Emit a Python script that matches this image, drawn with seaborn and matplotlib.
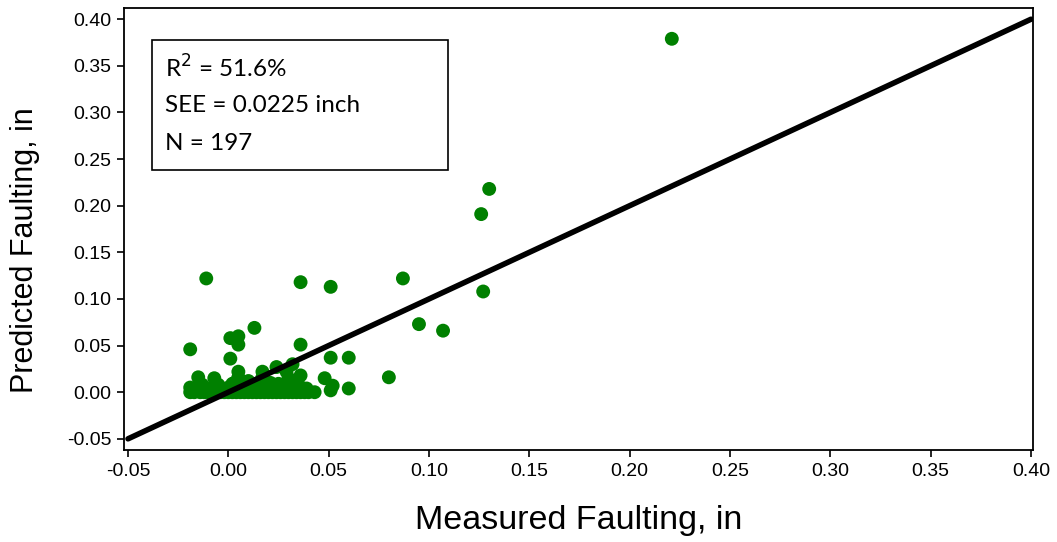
import matplotlib
matplotlib.use("Agg")
import matplotlib.pyplot as plt
import seaborn as sns
import pandas as pd
from matplotlib.patches import Rectangle

# Measured (x) and predicted (y) faulting, inches
measured = [
    0.221, 0.130, 0.126, 0.127, 0.087, 0.095, 0.107, 0.080,
    -0.011, 0.036, 0.051, 0.013, -0.019, 0.001, 0.005, 0.005, 0.036,
    0.001, 0.051, 0.060, 0.060, 0.051, 0.052, 0.048,
    -0.015, -0.007, 0.005, 0.005, 0.017, 0.017, 0.024, 0.032, 0.036, 0.029, 0.030,
    0.003, 0.010, 0.021, 0.033, 0.035,
    # dense band near zero
    -0.019, -0.017, -0.014, -0.012, -0.010, -0.008, -0.006, -0.004, -0.002,
    0.000, 0.002, 0.004, 0.006, 0.008, 0.010, 0.012, 0.014, 0.016, 0.018,
    0.020, 0.022, 0.024, 0.026, 0.028, 0.030, 0.032, 0.034, 0.036, 0.038,
    0.040, 0.043,
    -0.019, -0.016, -0.012, -0.008, -0.004, 0.000, 0.004, 0.008, 0.012,
    0.016, 0.020, 0.024, 0.028, 0.032, 0.036, 0.039,
    -0.013, -0.005, 0.002, 0.009, 0.014, 0.019, 0.025, 0.030, 0.034,
]
predicted = [
    0.379, 0.218, 0.191, 0.108, 0.122, 0.073, 0.066, 0.016,
    0.122, 0.118, 0.113, 0.069, 0.046, 0.058, 0.060, 0.051, 0.051,
    0.036, 0.037, 0.037, 0.004, 0.002, 0.007, 0.015,
    0.016, 0.015, 0.022, 0.016, 0.022, 0.016, 0.027, 0.030, 0.018, 0.022, 0.015,
    0.010, 0.012, 0.010, 0.012, 0.008,
    0.000, 0.000, 0.000, 0.000, 0.000, 0.000, 0.000, 0.000, 0.000,
    0.000, 0.000, 0.000, 0.000, 0.000, 0.000, 0.000, 0.000, 0.000, 0.000,
    0.000, 0.000, 0.000, 0.000, 0.000, 0.000, 0.000, 0.000, 0.000, 0.000,
    0.000, 0.000,
    0.005, 0.004, 0.004, 0.005, 0.004, 0.005, 0.004, 0.005, 0.004,
    0.005, 0.004, 0.005, 0.004, 0.005, 0.004, 0.004,
    0.008, 0.008, 0.009, 0.008, 0.009, 0.008, 0.009, 0.008, 0.009,
]

line_x = [-0.05, 0.40]
line_y = [-0.05, 0.40]

x_ticks = [-0.05, 0.00, 0.05, 0.10, 0.15, 0.20, 0.25, 0.30, 0.35, 0.40]
y_ticks = [-0.05, 0.00, 0.05, 0.10, 0.15, 0.20, 0.25, 0.30, 0.35, 0.40]

stats_lines = ["R$^2$ = 51.6%", "SEE = 0.0225 inch", "N = 197"]

sns.set_style("ticks")
plt.rcParams["font.family"] = ["Liberation Sans", "DejaVu Sans"]
plt.rcParams["text.color"] = "black"
plt.rcParams["axes.labelcolor"] = "black"
plt.rcParams["xtick.color"] = "black"
plt.rcParams["ytick.color"] = "black"

df = pd.DataFrame({"Measured": measured, "Predicted": predicted})

fig = plt.figure(figsize=(10.57, 5.42), dpi=100)
ax = fig.add_axes([0.1173, 0.1697, 0.860, 0.8155])

sns.scatterplot(data=df, x="Measured", y="Predicted", ax=ax, color="#008000",
                s=100, edgecolor="none", linewidth=0, zorder=3)
sns.lineplot(x=line_x, y=line_y, ax=ax, color="black", linewidth=4, zorder=4)

ax.set_xlim(-0.052, 0.401)
ax.set_ylim(-0.062, 0.412)
ax.set_xticks(x_ticks, labels=[f"{v:.2f}" for v in x_ticks], fontsize=14)
ax.set_yticks(y_ticks, labels=[f"{v:.2f}" for v in y_ticks], fontsize=14)
ax.tick_params(axis="both", which="major", direction="out", length=5, width=1.2,
               color="black", pad=4, labelcolor="black", labelsize=14)
for sp in ax.spines.values():
    sp.set_visible(True)
    sp.set_color("black")
    sp.set_linewidth(1.3)

ax.set_xlabel("Measured Faulting, in", fontsize=24.5, labelpad=18, color="black")
ax.set_ylabel("Predicted Faulting, in", fontsize=22, color="black")
ax.yaxis.set_label_coords(-0.092, 0.452)

ax.add_patch(Rectangle((0.031, 0.633), 0.325, 0.295, transform=ax.transAxes,
                       facecolor="white", edgecolor="black", linewidth=1.2, zorder=5))
for i, t in enumerate(stats_lines):
    ax.text(0.045, 0.864 - i * 0.0848, t, transform=ax.transAxes, fontsize=17.5,
            family=["Lato", "DejaVu Sans"], va="center", ha="left", zorder=6,
            color="black")

fig.savefig("out.png", dpi=100)
